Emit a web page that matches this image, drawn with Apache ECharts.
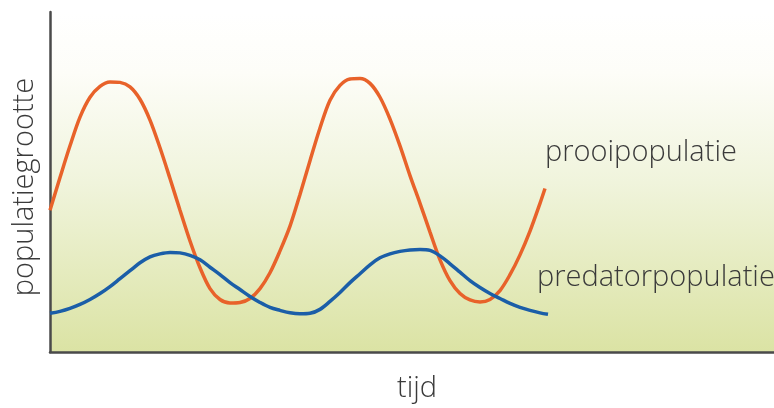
<!DOCTYPE html>
<html>
<head>
<meta charset="utf-8">
<script src="https://cdn.jsdelivr.net/npm/echarts@6/dist/echarts.min.js"></script>
<style>html,body{margin:0;padding:0;background:#fff}#c{width:774px;height:408px}</style>
</head>
<body>
<div id="c"></div>
<script>
// time and population in arbitrary units
var preyTime = [0, 1, 2, 3, 4, 5, 6, 7, 8, 9, 10, 11, 12, 13, 14, 15, 16, 17, 18, 19, 20, 21, 22, 23, 24, 25, 26, 27, 28, 29, 30, 31, 32, 33, 34, 35, 36, 37, 38, 39, 40, 41, 42, 43, 44, 45, 46, 47, 48, 49, 49.5];
var preyValues = [14.3, 17.6, 20.8, 23.7, 25.7, 26.8, 27.25, 27.2, 26.75, 25.5, 23.4, 20.6, 17.5, 14.3, 11.2, 8.5, 6.4, 5.3, 4.95, 5.0, 5.4, 6.4, 8.0, 10.2, 12.7, 15.9, 19.3, 22.6, 25.4, 26.9, 27.55, 27.6, 27.1, 25.7, 23.5, 20.8, 17.8, 15.0, 12.1, 9.3, 7.2, 5.9, 5.25, 5.05, 5.3, 6.2, 7.8, 9.8, 12.2, 15.0, 16.5];
var predTime = [0, 1, 2, 3, 4, 5, 6, 7, 8, 9, 10, 11, 12, 13, 14, 15, 16, 17, 18, 19, 20, 21, 22, 23, 24, 25, 26, 27, 28, 29, 30, 31, 32, 33, 34, 35, 36, 37, 38, 39, 40, 41, 42, 43, 44, 45, 46, 47, 48, 49, 49.8];
var predValues = [3.9, 4.1, 4.4, 4.8, 5.3, 5.9, 6.6, 7.4, 8.2, 9.0, 9.6, 9.9, 10.05, 10.0, 9.75, 9.3, 8.55, 7.8, 7.0, 6.3, 5.6, 5.0, 4.5, 4.2, 3.95, 3.85, 3.9, 4.3, 5.1, 6.0, 7.0, 7.9, 8.8, 9.5, 9.9, 10.15, 10.3, 10.35, 10.25, 9.7, 8.9, 8.05, 7.2, 6.5, 5.9, 5.4, 4.9, 4.5, 4.2, 3.95, 3.8];
var labels = {xName: 'tijd', yName: 'populatiegrootte', prey: 'prooipopulatie', pred: 'predatorpopulatie'};

function zip(a, b) { return a.map(function (v, i) { return [v, b[i]]; }); }

var chart = echarts.init(document.getElementById('c'));
var font = '"Open Sans", sans-serif';
var nameStyle = {fontFamily: font, fontWeight: 300, fontSize: 29, color: '#3a3a3a'};
chart.setOption({
  animation: false,
  grid: {
    left: 50, right: 0, top: 12, bottom: 53, show: true, borderWidth: 0,
    backgroundColor: new echarts.graphic.LinearGradient(0, 0, 0, 1, [
      {offset: 0, color: '#ffffff'},
      {offset: 0.18, color: '#fdfdf8'},
      {offset: 0.5, color: '#f0f4dc'},
      {offset: 1, color: '#dbe3a4'}
    ])
  },
  xAxis: {
    type: 'value', min: 0, max: 72.4,
    name: labels.xName, nameLocation: 'middle', nameGap: 22,
    nameTextStyle: Object.assign({padding: [0, 0, 0, 10]}, nameStyle),
    axisLine: {show: true, lineStyle: {color: '#4a4a4a', width: 2.5}},
    axisTick: {show: false}, axisLabel: {show: false}, splitLine: {show: false}
  },
  yAxis: {
    type: 'value', min: 0, max: 34.3,
    name: labels.yName, nameLocation: 'middle', nameGap: 11, nameRotate: 90,
    nameTextStyle: Object.assign({padding: [0, 10, 0, 0]}, nameStyle),
    axisLine: {show: true, lineStyle: {color: '#4a4a4a', width: 2.5}},
    axisTick: {show: false}, axisLabel: {show: false}, splitLine: {show: false}
  },
  series: [
    {type: 'line', data: zip(preyTime, preyValues), smooth: 0.33, showSymbol: false,
     lineStyle: {color: '#e8622a', width: 3.5}},
    {type: 'line', data: zip(predTime, predValues), smooth: 0.33, showSymbol: false,
     lineStyle: {color: '#1b5ea8', width: 3.5}}
  ],
  graphic: [
    {type: 'text', left: 545, top: 138, style: {text: labels.prey, font: '300 29px ' + font, fill: '#3a3a3a'}},
    {type: 'text', left: 537, top: 263, style: {text: labels.pred, font: '300 29px ' + font, fill: '#3a3a3a'}}
  ]
});
</script>
</body>
</html>
